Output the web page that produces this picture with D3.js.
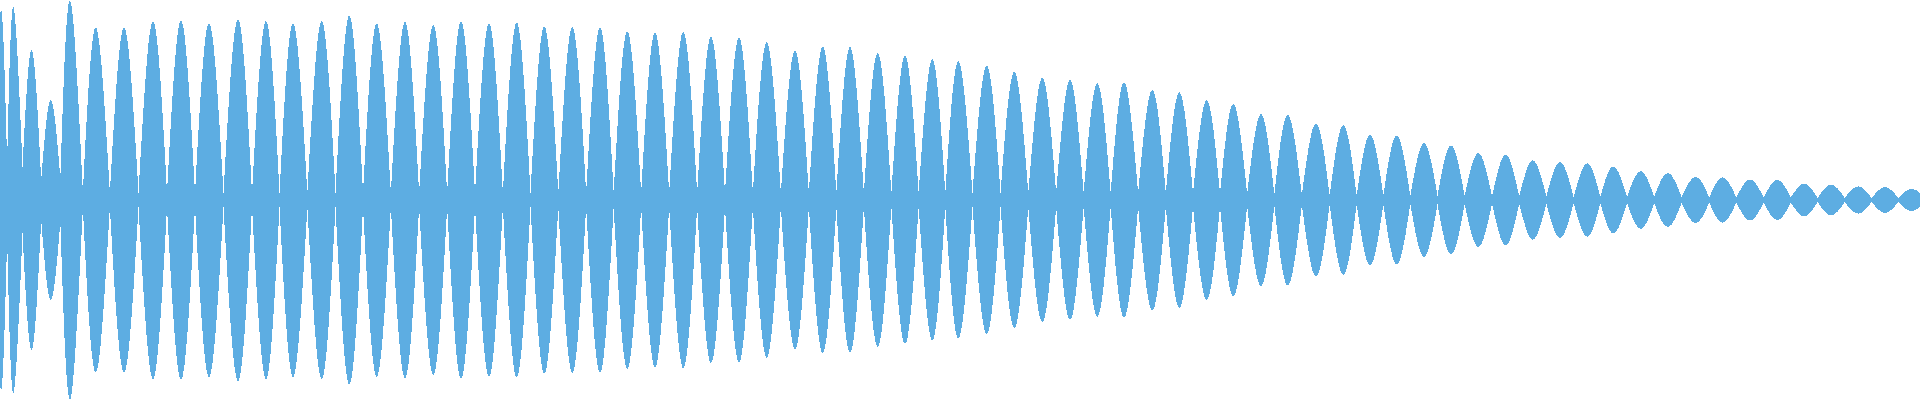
<html>
<script src='https://d3js.org/d3.v7.min.js'></script>
<style>
    body { margin: 0; background: #fff; }
    .lobe {
        fill: #5dade2;
        stroke: none;
        shape-rendering: crispEdges;
    }
</style>

<body onload='init()'>
    <svg width=1920 height=400></svg>
    <script>
        // peak position of each lobe of the waveform (px along the track)
        let peakX = [1, 13.3, 31.7, 50.7, 70, 95.7, 124, 153, 181, 209, 238, 266, 293,
            321.7, 349.3, 376.7, 405, 433.3, 461, 489, 516.7, 544.3, 572.3, 600, 627.3,
            655, 683.3, 711, 739, 766.7, 795, 822.7, 850, 877.7, 905, 932.3, 958.3,
            986.7, 1014.3, 1042.3, 1070, 1097.3, 1124, 1152.3, 1179.3, 1206.7, 1233.3, 1261,
            1287.7, 1316, 1343.3, 1370, 1396.7, 1424, 1451, 1478.3, 1505.7, 1532.7, 1560, 1587.3,
            1613.3, 1640.7, 1667.7, 1695.7, 1722.7, 1750, 1777.3, 1804.3, 1831, 1858.3, 1885, 1911.7];

        // peak amplitude of each lobe
        let peakAmp = [190, 193, 150, 100, 199.5, 172.5, 172.5, 179, 179.5, 177, 181, 179, 177,
            179, 184.5, 176.7, 178.2, 175, 178.7, 176.8, 177.5, 173.7, 172.8, 172.7, 168.7,
            167.5, 168.3, 163.3, 162.5, 157.8, 149.7, 153.3, 153, 147, 144.2, 140.7, 138.7,
            134.5, 128.2, 122.2, 120, 116.8, 117.7, 110.5, 107.8, 100, 96.3, 86,
            85.5, 76.7, 75, 65.5, 64.5, 57, 54.5, 47, 45.5, 39.7, 37.8, 36.7,
            33.5, 28.8, 27.2, 23.3, 22.7, 20.7, 20.3, 16.5, 15.5, 13.7, 13, 11.2];

        // amplitude left at the joins between lobes (first = left edge, last = right edge)
        let troughs = [30, 38, 33, 20, 22, 8,
            7, 7, 7, 7, 7, 7, 7, 7, 7, 7,
            7, 7, 7, 7, 7, 7, 7, 7, 7, 7,
            7, 7, 7, 7, 7, 7, 7, 7, 7, 7,
            7, 7, 7, 7, 7, 7, 7, 7, 7, 7,
            6.5, 6,
            5.5, 5, 4.5, 4.5, 4.5, 4, 4, 4, 3.5, 3.5, 3.5, 3, 3,
            3, 3, 3, 2.5, 2.5, 2.5, 2.5, 2, 2, 2, 2,
            2];

        function init() {
            let W = 1920, H = 400;
            let x = d3.scaleLinear().domain([0, 1920]).range([0, W]);
            let y = d3.scaleLinear().domain([-200, 200]).range([H, 0]);

            // lobe edges sit halfway between neighbouring peaks
            let n = peakX.length;
            let edges = [peakX[0] - (peakX[1] - peakX[0]) / 2];
            for (let i = 1; i < n; i++) edges.push((peakX[i - 1] + peakX[i]) / 2);
            edges.push(peakX[n - 1] + (peakX[n - 1] - peakX[n - 2]) / 2);

            let lobes = peakX.map(function (p, i) {
                return [
                    { x: edges[i], v: troughs[i] },
                    { x: p, v: peakAmp[i] },
                    { x: edges[i + 1], v: troughs[i + 1] }
                ];
            });

            let area = d3.area()
                .x(function (d) { return x(d.x); })
                .y0(function (d) { return y(-d.v); })
                .y1(function (d) { return y(d.v); })
                .curve(d3.curveNatural);

            d3.select('svg')
                .append('g')
                .selectAll('path')
                .data(lobes)
                .enter()
                .append('path')
                .attr('class', 'lobe')
                .attr('d', area);
        }
    </script>
</body>

</html>
